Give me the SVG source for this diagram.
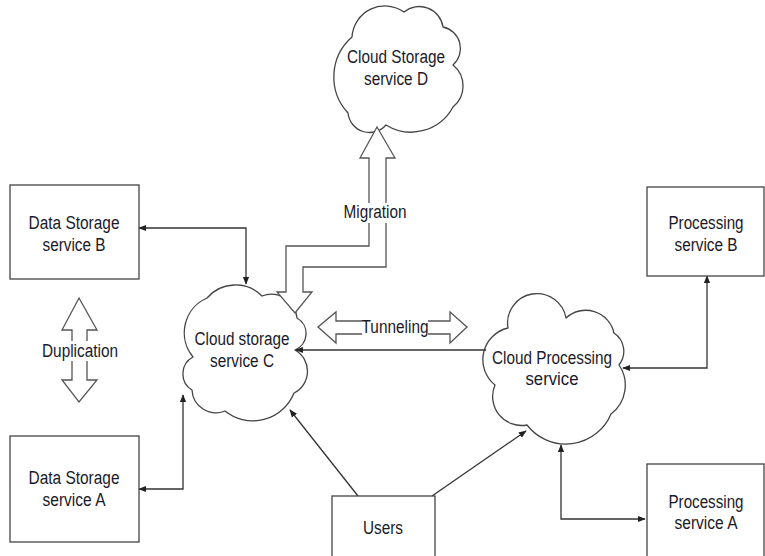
<svg xmlns="http://www.w3.org/2000/svg" width="765" height="556" viewBox="0 0 765 556">
<style>
text{font-family:"Liberation Sans",Arial,sans-serif;font-size:18px;fill:#1a1a2a;text-anchor:middle}
.box{fill:#fff;stroke:#444;stroke-width:1.3}
.cloud{fill:#fff;stroke:#444;stroke-width:1.3;stroke-linejoin:round}
.blk{fill:#fff;stroke:#555;stroke-width:1.3;stroke-linejoin:miter}
.con{fill:none;stroke:#333;stroke-width:1.3}
</style>
<defs>
<marker id="ah" viewBox="0 0 10 10" refX="9" refY="5" markerWidth="8" markerHeight="8" markerUnits="userSpaceOnUse" orient="auto-start-reverse"><path d="M0,1 L10,5 L0,9 Z" fill="#222"/></marker>
</defs>
<g id="cloudD">
<path class="cloud" d="M352 37 A33 33 0 0 1 404 12 A24 24 0 0 1 443 27 A22 22 0 0 1 453 65 A27 27 0 0 1 453 107 A47.6 47.6 0 0 1 386 125 A21.7 21.7 0 0 1 348 113 A53 53 0 0 1 352 37 Z"/>
<text x="396" y="63" textLength="98" lengthAdjust="spacingAndGlyphs">Cloud Storage</text>
<text x="396" y="85" textLength="64" lengthAdjust="spacingAndGlyphs">service D</text>
</g>
<g id="cloudC">
<path class="cloud" d="M207 298 A37.5 37.5 0 0 1 262 296 A26 26 0 0 1 297 318 A17.8 17.8 0 0 1 295 350 A24.3 24.3 0 0 1 294 393 A44.3 44.3 0 0 1 225 411 A24 24 0 0 1 192 390 A19 19 0 0 1 193 357 A38 38 0 0 1 207 298 Z"/>
<text x="242" y="345" textLength="95" lengthAdjust="spacingAndGlyphs">Cloud storage</text>
<text x="242" y="367" textLength="64" lengthAdjust="spacingAndGlyphs">service C</text>
</g>
<g id="cloudP">
<path class="cloud" d="M508 328 A28.5 28.5 0 0 1 566 318 A29 29 0 0 1 614 333 A22 22 0 0 1 619 365 A36 36 0 0 1 611 414 A49 49 0 0 1 527 425 A29 29 0 0 1 495 385 A32.5 32.5 0 0 1 508 328 Z"/>
<text x="552" y="364" textLength="120" lengthAdjust="spacingAndGlyphs">Cloud Processing</text>
<text x="552" y="385" textLength="53" lengthAdjust="spacingAndGlyphs">service</text>
</g>
<g id="connectors">
<path class="con" d="M139 228 H246 V284" marker-start="url(#ah)" marker-end="url(#ah)"/>
<path class="con" d="M139 489 H183 V395" marker-start="url(#ah)" marker-end="url(#ah)"/>
<path class="con" d="M486 350 H296" marker-end="url(#ah)"/>
<path class="con" d="M707 276 V368 H623" marker-start="url(#ah)" marker-end="url(#ah)"/>
<path class="con" d="M645 519 H561 V445" marker-start="url(#ah)" marker-end="url(#ah)"/>
<path class="con" d="M358 496 L290 410" marker-end="url(#ah)"/>
<path class="con" d="M432 496 L526 431" marker-end="url(#ah)"/>
</g>
<g id="migration">
<polygon class="blk" points="377,127 395,158 386,158 386,267 303,267 303,292 312,292 295,313 277,292 286,292 286,246 369,246 369,158 360,158"/>
<rect x="344" y="203" width="64" height="20" fill="#fff"/>
<text x="375" y="218" textLength="63" lengthAdjust="spacingAndGlyphs">Migration</text>
</g>
<g id="tunneling">
<polygon class="blk" points="318,327 336,312 336,321 450,321 450,312 467,327 450,343 450,334 336,334 336,343"/>
<rect x="362" y="318" width="66" height="20" fill="#fff"/>
<text x="395" y="333" textLength="67" lengthAdjust="spacingAndGlyphs">Tunneling</text>
</g>
<g id="duplication">
<polygon class="blk" points="79,298 97,330 87,330 87,380 97,380 79,402 62,380 72,380 72,330 62,330"/>
<rect x="42" y="341" width="76" height="20" fill="#fff"/>
<text x="80" y="357" textLength="76" lengthAdjust="spacingAndGlyphs">Duplication</text>
</g>
<g id="dsB">
<rect class="box" x="10" y="185" width="129" height="94"/>
<text x="74" y="229" textLength="91" lengthAdjust="spacingAndGlyphs">Data Storage</text>
<text x="74" y="251" textLength="63" lengthAdjust="spacingAndGlyphs">service B</text>
</g>
<g id="dsA">
<rect class="box" x="10" y="436" width="129" height="106"/>
<text x="74" y="484" textLength="91" lengthAdjust="spacingAndGlyphs">Data Storage</text>
<text x="74" y="506" textLength="63" lengthAdjust="spacingAndGlyphs">service A</text>
</g>
<g id="procB">
<rect class="box" x="647" y="187" width="117" height="89"/>
<text x="706" y="229" textLength="75" lengthAdjust="spacingAndGlyphs">Processing</text>
<text x="706" y="251" textLength="63" lengthAdjust="spacingAndGlyphs">service B</text>
</g>
<g id="procA">
<rect class="box" x="647" y="464" width="117" height="100"/>
<text x="706" y="508" textLength="75" lengthAdjust="spacingAndGlyphs">Processing</text>
<text x="706" y="529" textLength="63" lengthAdjust="spacingAndGlyphs">service A</text>
</g>
<g id="users">
<rect class="box" x="332" y="496" width="103" height="70"/>
<text x="383" y="534" textLength="40" lengthAdjust="spacingAndGlyphs">Users</text>
</g>
</svg>
